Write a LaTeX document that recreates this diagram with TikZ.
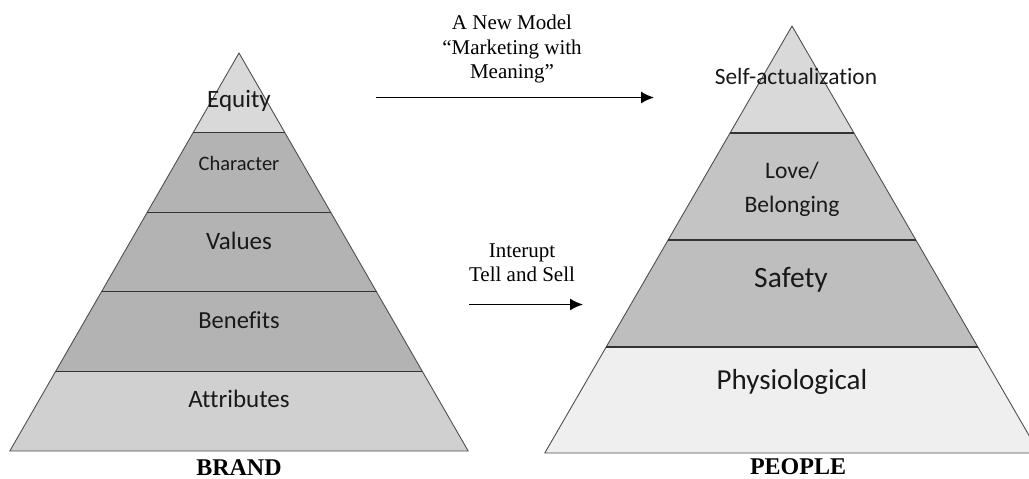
\documentclass[tikz,border=0pt]{standalone}
\usepackage{fontspec}
\setmainfont{Liberation Serif}
\newfontfamily\calfont[Ligatures={NoCommon,NoRare,NoDiscretionary}]{Carlito}
\usetikzlibrary{arrows.meta}
\definecolor{topgray}{HTML}{D9D9D9}
\definecolor{midgray}{HTML}{B3B3B3}
\definecolor{basegray}{HTML}{D0D0D0}
\definecolor{lovegray}{HTML}{C4C4C4}
\definecolor{safegray}{HTML}{BEBEBE}
\definecolor{physgray}{HTML}{EFEFEF}
\definecolor{edgegray}{HTML}{505050}
\tikzset{
  layerlabel/.style={font=\calfont, inner sep=0pt, text=black!90},
  outline/.style={draw=edgegray, line width=0.9pt, line join=round},
  sepline/.style={draw=black!80, line width=1.2pt},
  serifnote/.style={font=\fontsize{21}{24.5}\selectfont, align=center, inner sep=0pt},
  caption/.style={font=\fontsize{24}{28}\selectfont\bfseries, inner sep=0pt},
  flow/.style={-{Latex[length=13pt,width=12pt]}, line width=1.5pt}
}
\begin{document}
\begin{tikzpicture}[x=1pt,y=-1pt]
\useasboundingbox (0,0) rectangle (1029,479);
\clip (0,0) rectangle (1029,479);
% ---- left pyramid (BRAND)
\fill[topgray]  (239,53) -- (284.85,132.6) -- (193.15,132.6) -- cycle;
\fill[midgray]  (193.15,132.6) -- (284.85,132.6) -- (330.7,212.2) -- (147.3,212.2) -- cycle;
\fill[midgray]  (147.3,212.2) -- (330.7,212.2) -- (376.5,291.8) -- (101.5,291.8) -- cycle;
\fill[midgray]  (101.5,291.8) -- (376.5,291.8) -- (422.4,371.4) -- (55.6,371.4) -- cycle;
\fill[basegray] (55.6,371.4) -- (422.4,371.4) -- (468.2,451) -- (9.8,451) -- cycle;
\draw[outline] (239,53) -- (468.2,451) -- (9.8,451) -- cycle;
\draw[sepline] (193.15,132.6) -- (284.85,132.6);
\draw[sepline] (147.3,212.2) -- (330.7,212.2);
\draw[sepline] (101.5,291.8) -- (376.5,291.8);
\draw[sepline] (55.6,371.4) -- (422.4,371.4);
\node[layerlabel, font=\calfont\fontsize{25}{30}\selectfont] (equity) at (239,101) {Equity};
\node[layerlabel, font=\calfont\fontsize{20.5}{24}\selectfont] (character) at (239,163) {Character};
\node[layerlabel, font=\calfont\fontsize{25}{30}\selectfont] (values) at (239,241) {Values};
\node[layerlabel, font=\calfont\fontsize{24.5}{30}\selectfont] (benefits) at (239,320) {Benefits};
\node[layerlabel, font=\calfont\fontsize{25}{30}\selectfont] (attributes) at (239,399) {Attributes};
\node[caption] (brand) at (239,467.5) {BRAND};
% ---- right pyramid (PEOPLE)
\fill[topgray]  (792,26) -- (853.95,133) -- (730.05,133) -- cycle;
\fill[lovegray] (730.05,133) -- (853.95,133) -- (915.9,240) -- (668.1,240) -- cycle;
\fill[safegray] (668.1,240) -- (915.9,240) -- (977.9,347) -- (606.1,347) -- cycle;
\fill[physgray] (606.1,347) -- (977.9,347) -- (1039.2,453) -- (544.8,453) -- cycle;
\draw[outline] (792,26) -- (1039.2,453) -- (544.8,453) -- cycle;
\draw[sepline] (730.05,133) -- (853.95,133);
\draw[sepline] (668.1,240) -- (915.9,240);
\draw[sepline] (606.1,347) -- (977.9,347);
\node[layerlabel, font=\calfont\fontsize{23.4}{28}\selectfont] (selfact) at (796,76) {Self-actualization};
\node[layerlabel, font=\calfont\fontsize{23.6}{34}\selectfont, align=center] (love) at (792,189) {Love/\\Belonging};
\node[layerlabel, font=\calfont\fontsize{29.5}{34}\selectfont] (safety) at (791,280) {Safety};
\node[layerlabel, font=\calfont\fontsize{29}{34}\selectfont] (physio) at (792,382) {Physiological};
\node[caption] (people) at (798,467) {PEOPLE};
% ---- arrows and notes
\node[serifnote] (newmodel) at (512,49) {A New Model\\“Marketing with\\Meaning”};
\coordinate (a1s) at (375.5,97.5);
\coordinate (a1e) at (654,97.5);
\draw[flow] (a1s) -- (a1e);
\node[serifnote] (interupt) at (522,262.5) {Interupt\\Tell and Sell};
\coordinate (a2s) at (469,304.5);
\coordinate (a2e) at (583,304.5);
\draw[flow] (a2s) -- (a2e);
\end{tikzpicture}
\end{document}
